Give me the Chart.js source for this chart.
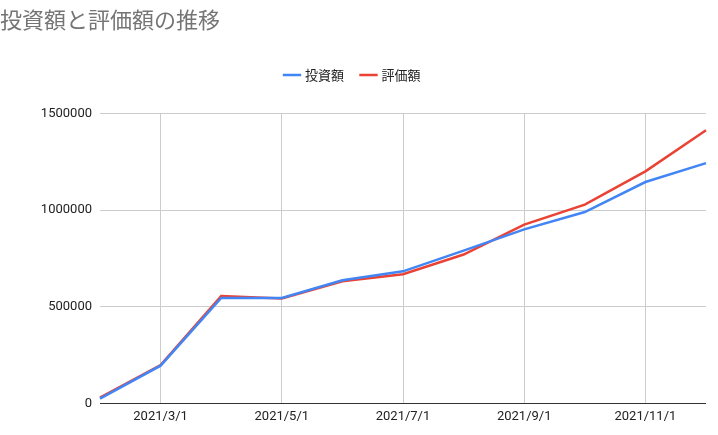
<!DOCTYPE html>
<html>
<head>
<meta charset="utf-8">
<script src="https://cdn.jsdelivr.net/npm/chart.js@4"></script>
<style>
body{margin:0;background:#fff;}
#wrap{width:718px;height:435px;position:relative;}
</style>
</head>
<body>
<div id="wrap"><canvas id="myChart"></canvas></div>
<script>
var labels = ["2021/2/1","2021/3/1","2021/4/1","2021/5/1","2021/6/1","2021/7/1","2021/8/1","2021/9/1","2021/10/1","2021/11/1","2021/12/1"];
var shownTicks = ["2021/3/1","2021/5/1","2021/7/1","2021/9/1","2021/11/1"];
var toushi = [25000, 195000, 545000, 545000, 637000, 683000, 790000, 900000, 990000, 1145000, 1243000];
var hyouka = [30000, 198000, 555000, 543000, 632000, 668000, 770000, 925000, 1028000, 1200000, 1413000];
var yTicks = [0, 500000, 1000000, 1500000];

var ctx = document.getElementById("myChart");
var myChart = new Chart(ctx, {
    type: 'line',
    data: {
        labels: labels,
        datasets: [
            {label: "投資額", data: toushi, borderColor: "#4285F4", backgroundColor: "#4285F4", borderWidth: 2.5, pointRadius: 0, tension: 0},
            {label: "評価額", data: hyouka, borderColor: "#EA4335", backgroundColor: "#EA4335", borderWidth: 2.5, pointRadius: 0, tension: 0}
        ]
    },
    options: {
        responsive: true,
        maintainAspectRatio: false,
        animation: false,
        layout: {padding: {left: 0, right: 12, bottom: 4, top: 0}},
        plugins: {
            title: {display: true, text: "投資額と評価額の推移", align: "start", color: "#757575",
                font: {family: "Noto Sans CJK JP", size: 22, weight: "normal"}, padding: {top: 6, bottom: 18}},
            legend: {labels: {usePointStyle: true, pointStyle: "line", boxWidth: 20, color: "#222",
                font: {family: "Noto Sans CJK JP", size: 13}, padding: 18},
                afterFit: undefined},
            tooltip: {enabled: false}
        },
        scales: {
            x: {
                offset: false,
                border: {display: false},
                grid: {color: function(c){ return c.tick && shownTicks.indexOf(labels[c.tick.value]) >= 0 ? "#cccccc" : "rgba(0,0,0,0)"; }, drawTicks: false},
                ticks: {autoSkip: false, maxRotation: 0, color: "#222", font: {family: "Roboto", size: 13}, padding: 6,
                    callback: function(v){ return shownTicks.indexOf(labels[v]) >= 0 ? labels[v] : ""; }}
            },
            y: {
                min: 0, max: 1500000,
                border: {display: false},
                afterFit: function(s){ s.width = 100; },
                afterBuildTicks: function(s){ s.ticks = yTicks.map(function(v){ return {value: v}; }); },
                grid: {color: function(c){ return c.tick && c.tick.value === 0 ? "#333" : "#cccccc"; }, drawTicks: false},
                ticks: {color: "#222", font: {family: "Roboto", size: 13}, padding: 8,
                    callback: function(v){ return String(v); }}
            }
        }
    },
    plugins: [{
        id: "legendGap",
        beforeInit: function(chart){
            var fit = chart.legend.fit;
            chart.legend.fit = function(){ fit.bind(chart.legend)(); this.height += 22; };
        }
    }]
});
</script>
</body>
</html>
